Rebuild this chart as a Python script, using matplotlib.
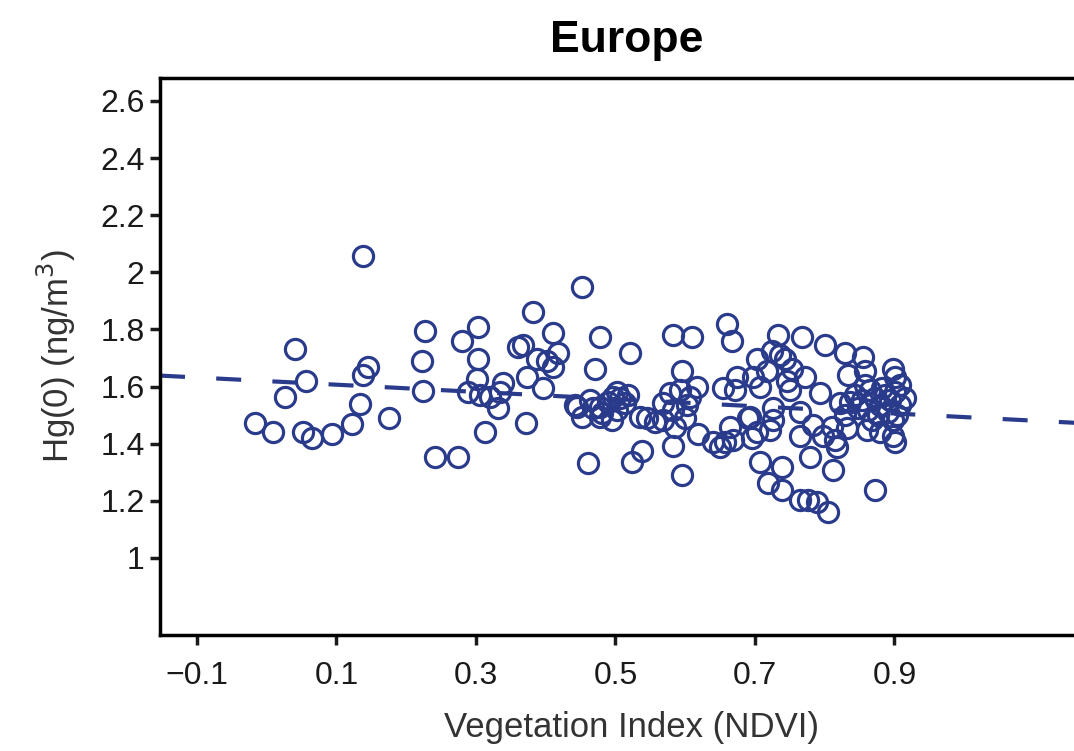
import matplotlib
matplotlib.use("Agg")
from matplotlib import pyplot as plt
from matplotlib.ticker import FuncFormatter

# NDVI and Hg(0) values
ndvi = [
    -0.017, 0.009, 0.026, 0.040, 0.056, 0.052, 0.065, 0.094, 0.122, 0.134,
    0.138, 0.145, 0.138, 0.175, 0.227, 0.223, 0.224, 0.241, 0.274, 0.280,
    0.303, 0.303, 0.301, 0.289, 0.320, 0.339, 0.332, 0.313, 0.360, 0.367,
    0.382, 0.410, 0.418, 0.402, 0.410, 0.373, 0.396, 0.372, 0.452, 0.478,
    0.471, 0.521, 0.445, 0.452, 0.478, 0.496, 0.502, 0.461, 0.545, 0.557,
    0.524, 0.538, 0.595, 0.582, 0.610, 0.595, 0.618, 0.582, 0.481, 0.442,
    0.306, 0.334, 0.387, 0.506, 0.514, 0.489, 0.502, 0.495, 0.518, 0.478,
    0.463, 0.468, 0.568, 0.585, 0.600, 0.578, 0.592, 0.607, 0.617, 0.568,
    0.603, 0.582, 0.654, 0.671, 0.674, 0.697, 0.707, 0.717, 0.703, 0.724,
    0.743, 0.746, 0.750, 0.733, 0.660, 0.667, 0.772, 0.767, 0.800, 0.829,
    0.855, 0.833, 0.858, 0.793, 0.898, 0.901, 0.822, 0.843, 0.853, 0.865,
    0.872, 0.879, 0.886, 0.894, 0.901, 0.908, 0.903, 0.890, 0.876, 0.862,
    0.848, 0.836, 0.858, 0.882, 0.908, 0.898, 0.868, 0.829, 0.915, 0.664,
    0.657, 0.668, 0.690, 0.696, 0.726, 0.722, 0.765, 0.779, 0.810, 0.818,
    0.812, 0.707, 0.739, 0.719, 0.739, 0.765, 0.776, 0.789, 0.805, 0.872,
    0.901, 0.879, 0.861, 0.832, 0.650, 0.640, 0.703, 0.693, 0.898, 0.797,
    0.815, 0.535, 0.726, 0.765, 0.783, 0.753, 0.736,
]
hg = [
    1.474, 1.439, 1.565, 1.730, 1.618, 1.442, 1.421, 1.432, 1.470, 1.540,
    1.639, 1.670, 2.056, 1.491, 1.793, 1.691, 1.586, 1.354, 1.354, 1.758,
    1.807, 1.695, 1.625, 1.582, 1.565, 1.614, 1.526, 1.442, 1.740, 1.747,
    1.860, 1.789, 1.719, 1.688, 1.670, 1.635, 1.596, 1.474, 1.947, 1.775,
    1.660, 1.719, 1.530, 1.495, 1.530, 1.565, 1.582, 1.333, 1.491, 1.477,
    1.337, 1.375, 1.291, 1.782, 1.775, 1.653, 1.432, 1.393, 1.509, 1.537,
    1.572, 1.582, 1.695, 1.561, 1.544, 1.547, 1.519, 1.484, 1.572, 1.495,
    1.554, 1.526, 1.484, 1.460, 1.491, 1.579, 1.589, 1.565, 1.600, 1.544,
    1.537, 1.519, 1.596, 1.589, 1.635, 1.635, 1.600, 1.653, 1.695, 1.723,
    1.695, 1.618, 1.589, 1.782, 1.818, 1.758, 1.635, 1.775, 1.747, 1.719,
    1.702, 1.642, 1.653, 1.579, 1.660, 1.632, 1.544, 1.572, 1.554, 1.589,
    1.561, 1.537, 1.572, 1.554, 1.582, 1.537, 1.502, 1.512, 1.502, 1.519,
    1.526, 1.547, 1.607, 1.596, 1.607, 1.484, 1.484, 1.502, 1.561, 1.460,
    1.404, 1.414, 1.491, 1.421, 1.484, 1.449, 1.425, 1.354, 1.460, 1.389,
    1.309, 1.337, 1.319, 1.263, 1.239, 1.204, 1.204, 1.196, 1.161, 1.239,
    1.407, 1.442, 1.449, 1.456, 1.389, 1.407, 1.442, 1.495, 1.425, 1.425,
    1.414, 1.495, 1.526, 1.512, 1.467, 1.660, 1.712,
]

# regression line read from the dashed trend
fit_intercept = 1.619
fit_slope = -0.126

x_ticks = [-0.1, 0.1, 0.3, 0.5, 0.7, 0.9]
y_ticks = [1.0, 1.2, 1.4, 1.6, 1.8, 2.0, 2.2, 2.4, 2.6]

navy = "#2a3b8c"
plt.rcParams['font.family'] = ['Liberation Sans', 'DejaVu Sans']

fig = plt.figure(figsize=(10.74, 7.51), dpi=100)
ax = fig.add_axes([0.149, 0.1545, 0.8787, 0.7415])

ax.plot(ndvi, hg, linestyle='none', marker='o', markersize=14.5,
        markerfacecolor='none', markeredgecolor=navy, markeredgewidth=2.3)

xlim = (-0.153, 1.20)
ax.plot(xlim, [fit_intercept + fit_slope * v for v in xlim], color=navy,
        linewidth=3.0, dashes=(6, 7.5))

ax.set_xlim(*xlim)
ax.set_ylim(0.73, 2.68)
ax.set_xticks(x_ticks)
ax.set_yticks(y_ticks)
ax.xaxis.set_major_formatter(FuncFormatter(lambda v, p: f"{v:.1f}".replace('-', '\u2212')))
ax.yaxis.set_major_formatter(FuncFormatter(lambda v, p: f"{v:g}"))

for s in ax.spines.values():
    s.set_linewidth(2.5)
ax.tick_params(direction='out', length=7, width=2.5, labelsize=23,
               colors='#1a1a1a')
ax.tick_params(axis='x', pad=12)
ax.tick_params(axis='y', pad=4)

ax.set_xlabel("Vegetation Index (NDVI)", fontsize=25, color='#333333', labelpad=14)
ax.set_ylabel("Hg(0) (ng/m$^3$)", fontsize=25, color='#333333', labelpad=16)
ax.set_title("Europe", fontsize=32, fontweight='bold', x=0.495, pad=19)

fig.savefig("out.png", dpi=100)
